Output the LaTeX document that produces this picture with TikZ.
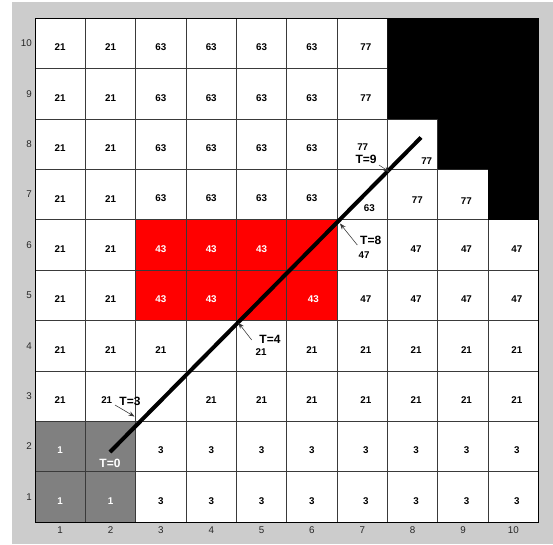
\documentclass[tikz,border=0pt]{standalone}
\usepackage{fontspec}
\setmainfont{Liberation Sans}
\usetikzlibrary{arrows.meta}
\definecolor{panelgray}{HTML}{CCCCCC}
\definecolor{cellgray}{HTML}{808080}
\definecolor{cellred}{HTML}{FF0000}
\definecolor{ticktext}{HTML}{262626}
\definecolor{gridcol}{HTML}{3A3A3A}
\tikzset{
  cell/.style={font=\bfseries\fontsize{9.8}{10}\selectfont, inner sep=0pt, text=black},
  cellw/.style={cell, text=white},
  tlab/.style={font=\bfseries\fontsize{12}{13}\selectfont, inner sep=0pt},
  tick/.style={font=\fontsize{9.8}{10}\selectfont, inner sep=0pt, text=ticktext},
  ann/.style={draw=black!80, line width=0.55pt, -{Stealth[length=6pt,width=4.5pt]}},
  path/.style={line width=4pt, black},
}
\begin{document}
\begin{tikzpicture}[x=1pt,y=-1pt]
\useasboundingbox (0,0) rectangle (553,544);
\fill[white] (0,0) rectangle (553,544);
\fill[panelgray] (12,2) rectangle (553,544);
% axes area
\fill[white] (35,18.3) rectangle (538.5,522);
% gray start cells
\fill[cellgray] (35,522) rectangle (135.7,421.3);
% red region
\fill[cellred] (135.7,320.5) rectangle (337.1,219.8);
% grid
\foreach \k in {1,...,9} {
  \draw[gridcol, line width=0.7pt] ({35+50.35*\k},18.3) -- ({35+50.35*\k},522);
  \draw[gridcol, line width=0.7pt] (35,{522-50.37*\k}) -- (538.5,{522-50.37*\k});
}
% black obstacle region
\fill[black] (387.45,18.3) -- (538.5,18.3) -- (538.5,219.8) -- (488.15,219.8)
  -- (488.15,169.4) -- (437.8,169.4) -- (437.8,119.05) -- (387.45,119.05) -- cycle;
% frame
\draw[black, line width=0.8pt] (35,18.3) rectangle (538.5,522);
% tick labels
\foreach \k in {1,...,10} {
  \node[tick, anchor=east] (yt\k) at (32,{522-50.37*(\k-0.5)}) {\k};
  \node[tick] (xt\k) at ({35+50.35*(\k-0.5)},530.5) {\k};
}
% regular cell labels (black)
\foreach \c/\r/\t in {
  1/10/21,2/10/21,3/10/63,4/10/63,5/10/63,6/10/63,7/10/77,
  1/9/21,2/9/21,3/9/63,4/9/63,5/9/63,6/9/63,7/9/77,
  1/8/21,2/8/21,3/8/63,4/8/63,5/8/63,6/8/63,
  1/7/21,2/7/21,3/7/63,4/7/63,5/7/63,6/7/63,
  1/6/21,2/6/21,8/6/47,9/6/47,10/6/47,
  1/5/21,2/5/21,7/5/47,8/5/47,9/5/47,10/5/47,
  1/4/21,2/4/21,3/4/21,6/4/21,7/4/21,8/4/21,9/4/21,10/4/21,
  1/3/21,4/3/21,5/3/21,6/3/21,7/3/21,8/3/21,9/3/21,10/3/21,
  3/2/3,4/2/3,5/2/3,6/2/3,7/2/3,8/2/3,9/2/3,10/2/3,
  3/1/3,4/1/3,5/1/3,6/1/3,7/1/3,8/1/3,9/1/3,10/1/3} {
  \node[cell] (c\c-\r) at ({35+50.35*(\c-0.5)+(\c>6)*3.5},{522-50.37*(\r-0.5)+4}) {\t};
}
% white cell labels
\foreach \c/\r/\t in {3/6/43,4/6/43,5/6/43,3/5/43,4/5/43,1/2/1,1/1/1,2/1/1} {
  \node[cellw] (c\c-\r) at ({35+50.35*(\c-0.5)},{522-50.37*(\r-0.5)+4}) {\t};
}
% special placed labels
\node[cellw] (c6-5) at (313.3,299.3) {43};
\node[cell] (c7-8) at (362.7,146.7) {77};
\node[cell] (c8-8) at (426.7,161) {77};
\node[cell] (c7-7) at (369.3,208.3) {63};
\node[cell] (c8-7) at (417.3,200) {77};
\node[cell] (c9-7) at (466.3,200.7) {77};
\node[cell] (c7-6) at (364,255) {47};
\node[cell] (c5-4) at (261,352) {21};
\node[cell] (c2-3) at (106.7,400) {21};
% path line
\coordinate (pstart) at (110,452);
\coordinate (pend) at (421,137.5);
\draw[path] (pstart) -- (pend);
% time labels
\node[tlab, text=white] (t0) at (110,463) {T=0};
\node[tlab] (t3) at (130,401.7) {T=3};
\node[tlab] (t4) at (270,339.3) {T=4};
\node[tlab] (t8) at (370.7,240) {T=8};
\node[tlab] (t9) at (366,159.3) {T=9};
% annotation arrows
\coordinate (a3s) at (115,405);  \coordinate (a3e) at (134.5,416.5);
\coordinate (a4s) at (251.7,340); \coordinate (a4e) at (238.3,322.7);
\coordinate (a8s) at (357.3,245); \coordinate (a8e) at (340,223.5);
\coordinate (a9s) at (379,165);  \coordinate (a9e) at (389.5,172);
\draw[ann] (a3s) -- (a3e);
\draw[ann] (a4s) -- (a4e);
\draw[ann] (a8s) -- (a8e);
\draw[ann] (a9s) -- (a9e);
\end{tikzpicture}
\end{document}
